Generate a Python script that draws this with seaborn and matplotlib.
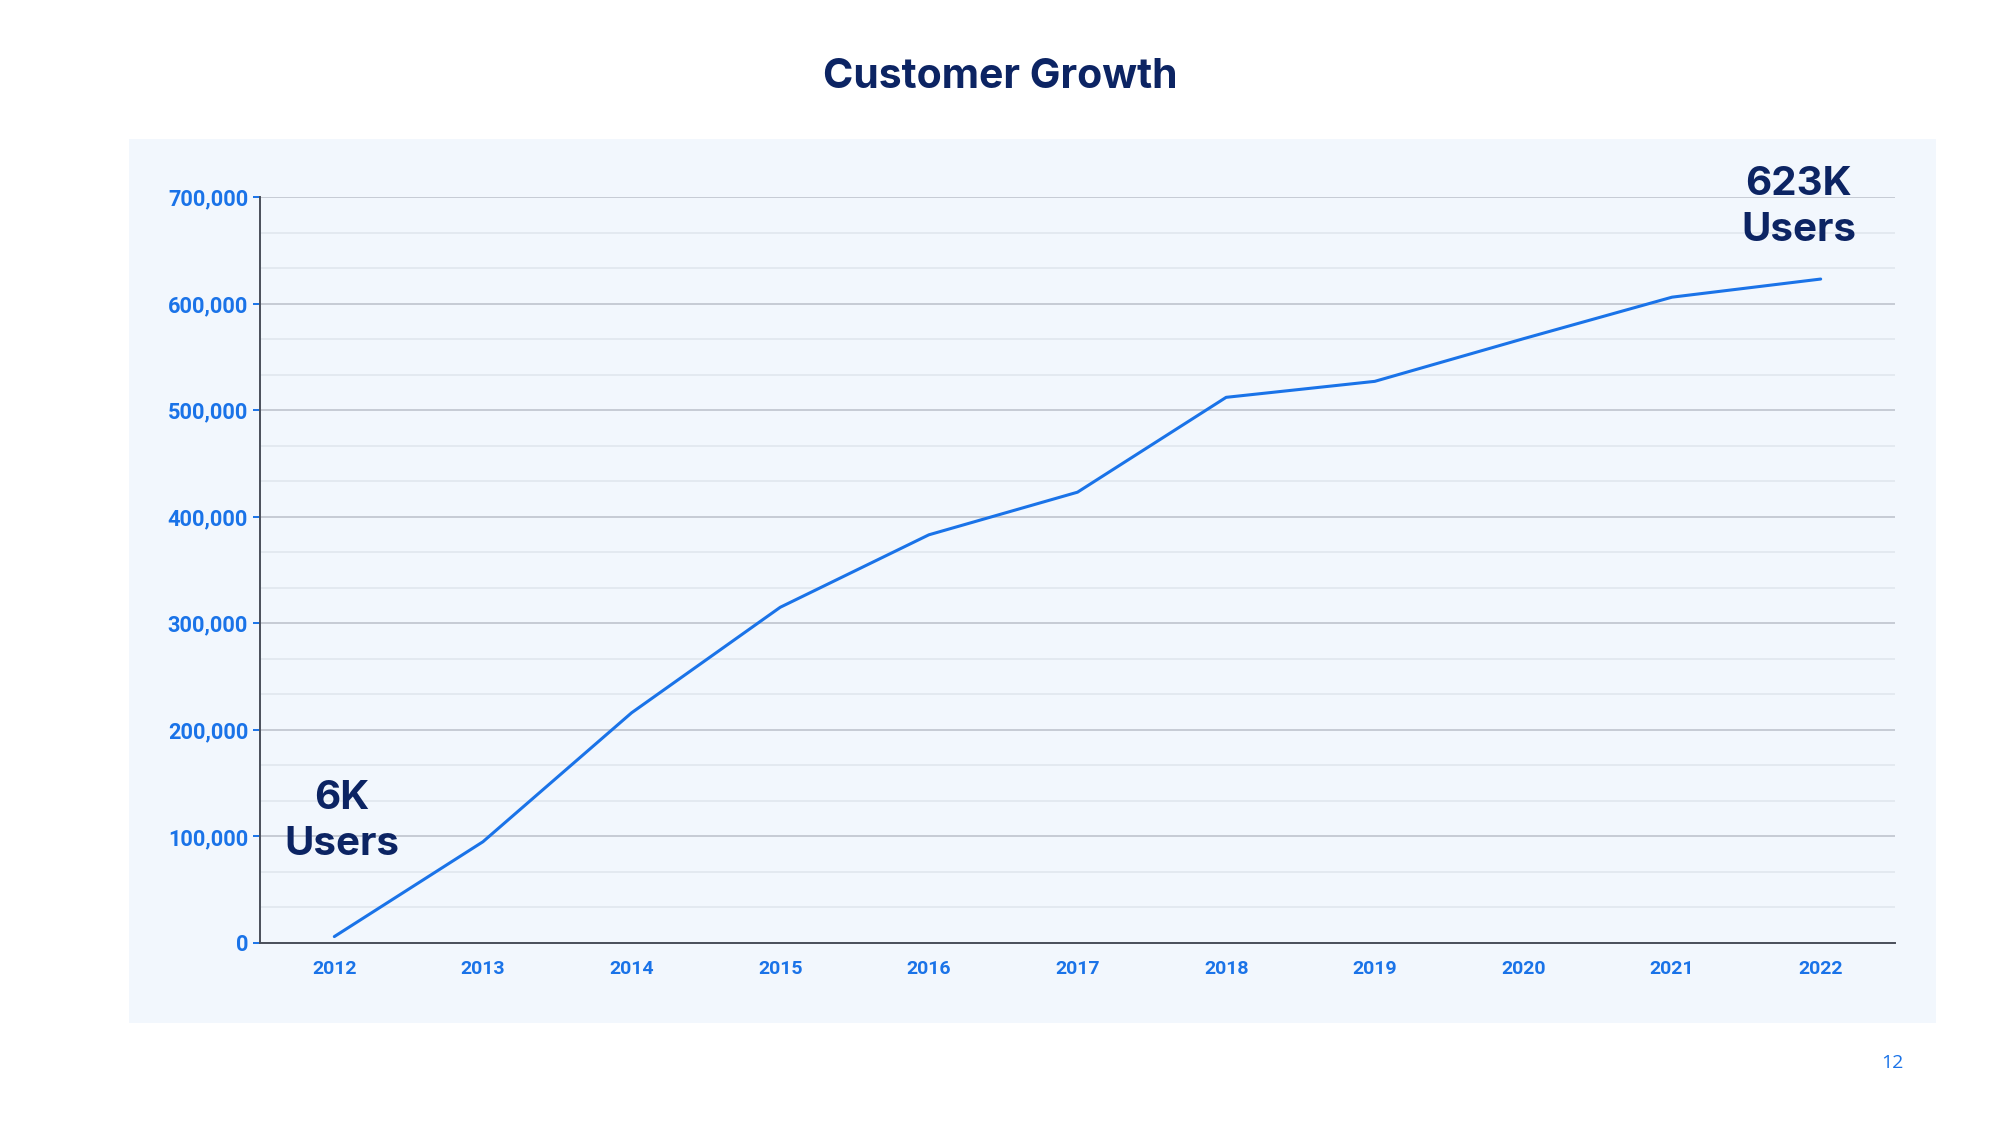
import matplotlib
matplotlib.use("Agg")
import matplotlib.pyplot as plt
import matplotlib.ticker as mticker
from matplotlib.patches import Rectangle
import seaborn as sns
import pandas as pd

years = [2012, 2013, 2014, 2015, 2016, 2017, 2018, 2019, 2020, 2021, 2022]
users = [6000, 95000, 216000, 315000, 383000, 423000, 512000, 527000, 567000, 606000, 623000]
start_label = "6K\nUsers"
end_label = "623K\nUsers"
title = "Customer Growth"
page_number = "12"

df = pd.DataFrame({"year": years, "users": users})

sns.set_theme(style="white")
plt.rcParams['font.family'] = ['Roboto', 'DejaVu Sans']

NAVY = "#0c2463"
BLUE = "#1a73e8"
PANEL = "#f2f7fd"

fig = plt.figure(figsize=(20, 11.25), dpi=100)
fig.patch.set_facecolor("white")
fig.patches.append(Rectangle((0.0645, 0.0907), 0.968 - 0.0645, 0.8764 - 0.0907,
                             transform=fig.transFigure, facecolor=PANEL,
                             edgecolor="none", zorder=-10))

ax = fig.add_axes([0.13, 0.1618, 0.8175, 0.6631])
ax.set_facecolor(PANEL)

sns.lineplot(data=df, x="year", y="users", ax=ax, color=BLUE, linewidth=2.2, zorder=3)

ax.set_xlim(2011.5, 2022.5)
ax.set_ylim(0, 700000)
ax.set_xticks(years)
ax.set_xticklabels([str(y) for y in years])
ax.yaxis.set_major_locator(mticker.MultipleLocator(100000))
ax.yaxis.set_minor_locator(mticker.MultipleLocator(100000 / 3))
ax.yaxis.set_major_formatter(mticker.FuncFormatter(lambda v, p: f"{int(v):,}"))

ax.grid(which="major", axis="y", color="#c3c8d1", linewidth=1.3, zorder=1)
ax.grid(which="minor", axis="y", color="#dfe5ed", linewidth=1.1, zorder=1)
ax.grid(which="major", axis="x", visible=False)
ax.set_axisbelow(True)

for s in ["top", "right"]:
    ax.spines[s].set_visible(False)
for s in ["left", "bottom"]:
    ax.spines[s].set_color("#4a4f5a")
    ax.spines[s].set_linewidth(1.4)

ax.tick_params(axis="y", which="major", length=5, width=1.4, color=BLUE,
               labelcolor=BLUE, labelsize=15.7, pad=3.5, left=True)
ax.tick_params(axis="y", which="minor", length=0)
ax.tick_params(axis="x", length=0, labelcolor=BLUE, labelsize=14, pad=12)
for lab in ax.get_yticklabels() + ax.get_xticklabels():
    lab.set_fontweight("bold")

ax.set_xlabel("")
ax.set_ylabel("")

ax.text(2012.05, 114000, start_label, ha="center", va="center", color=NAVY,
        fontsize=29, fontweight="bold", linespacing=1.3, family="Inter", clip_on=False)
ax.text(2021.85, 690000, end_label, ha="center", va="center", color=NAVY,
        fontsize=29, fontweight="bold", linespacing=1.3, family="Inter", clip_on=False)

fig.text(0.5, 1 - 76.5 / 1125, title, ha="center", va="center", color=NAVY,
         fontsize=29.5, fontweight="bold", family="Inter")
fig.text(1892 / 2000, 1 - 1063 / 1125, page_number, ha="center", va="center",
         color=BLUE, fontsize=14, family="Open Sans")

fig.savefig("out.png", dpi=100, facecolor="white")
